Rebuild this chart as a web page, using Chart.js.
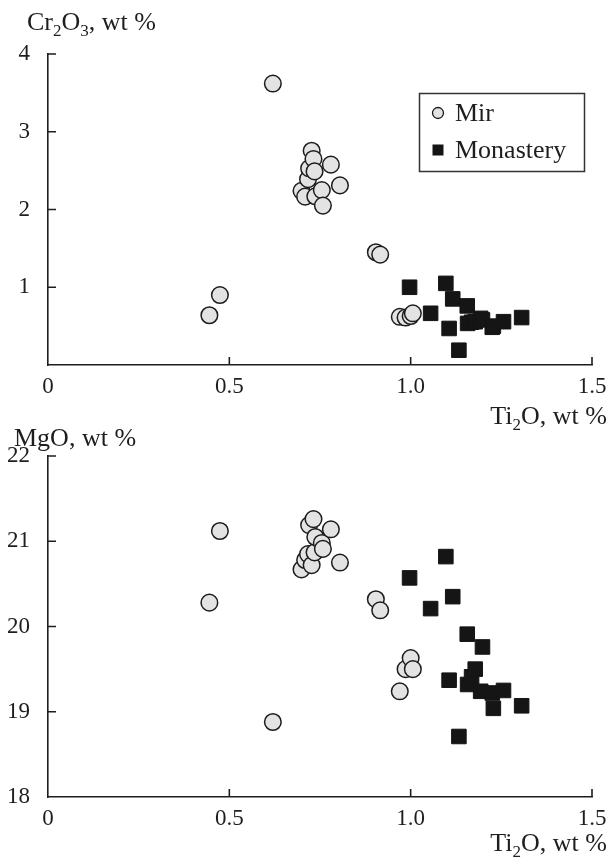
<!DOCTYPE html>
<html>
<head>
<meta charset="utf-8">
<script src="https://cdn.jsdelivr.net/npm/chart.js@4"></script>
<style>
  body { margin: 0; background: #fff; }
  #wrap { position: relative; width: 616px; height: 861px; }
  canvas { position: absolute; left: 0; top: 0; }
</style>
</head>
<body>
<div id="wrap">
  <canvas id="topChart" width="616" height="861"></canvas>
  <canvas id="bottomChart" width="616" height="861"></canvas>
</div>
<script>
// Mir samples: TiO2 with Cr2O3 (top panel) and MgO (bottom panel)
const mirTiO2  = [0.445, 0.474, 0.620, 0.699, 0.709, 0.717, 0.720, 0.727, 0.732, 0.735, 0.737, 0.755, 0.758, 0.780, 0.805, 0.904, 0.916, 0.970, 0.986, 1.000, 1.006];
const mirCr2O3 = [0.64, 0.90, 3.62, 2.24, 2.165, 2.39, 2.53, 2.756, 2.65, 2.49, 2.17, 2.25, 2.05, 2.577, 2.31, 1.45, 1.42, 0.62, 0.61, 0.63, 0.665];
const mirMgO   = [20.28, 21.12, 18.88, 20.67, 20.78, 20.85, 21.19, 20.72, 21.26, 20.87, 21.05, 20.98, 20.91, 21.14, 20.75, 20.32, 20.19, 19.24, 19.50, 19.63, 19.50];
// Monastery samples
const monTiO2  = [0.997, 1.055, 1.097, 1.106, 1.116, 1.133, 1.156, 1.157, 1.168, 1.178, 1.193, 1.198, 1.225, 1.228, 1.256, 1.306];
const monCr2O3 = [1.00, 0.665, 1.05, 0.47, 0.85, 0.19, 0.76, 0.535, 0.55, 0.557, 0.60, 0.58, 0.485, 0.50, 0.557, 0.61];
const monMgO   = [20.57, 20.21, 20.82, 19.37, 20.35, 18.71, 19.91, 19.32, 19.41, 19.50, 19.24, 19.76, 19.22, 19.04, 19.25, 19.07];

const seriesNames = ['Mir', 'Monastery'];
const xTicks = [0, 0.5, 1.0, 1.5];
const xTickLabels = ['0', '0.5', '1.0', '1.5'];

const FONT = "'Liberation Serif', 'Times New Roman', serif";
const INK = '#1e1e1e';

function pairs(xs, ys) {
    return xs.map((x, i) => ({x: x, y: ys[i]}));
}

// draw text with subscript parts: [[text, isSub], ...]
function drawRich(ctx, parts, x, y, align) {
    const big = '26px ' + FONT, small = '17px ' + FONT;
    let total = 0;
    parts.forEach(p => { ctx.font = p[1] ? small : big; total += ctx.measureText(p[0]).width; });
    let cx = align === 'right' ? x - total : x;
    ctx.fillStyle = INK;
    ctx.textAlign = 'left';
    ctx.textBaseline = 'alphabetic';
    parts.forEach(p => {
        ctx.font = p[1] ? small : big;
        ctx.fillText(p[0], cx, p[1] ? y + 6 : y);
        cx += ctx.measureText(p[0]).width;
    });
}

// inward tick marks and axis titles / legend
const decor = {
    id: 'decor',
    afterDraw(chart, args, opts) {
        const ctx = chart.ctx;
        const xs = chart.scales.x, ys = chart.scales.y;
        const area = chart.chartArea;
        ctx.save();
        ctx.strokeStyle = INK;
        ctx.lineWidth = 1.6;
        ctx.beginPath();
        xs.ticks.forEach(t => {
            if (t.value === xs.min) return;
            const px = xs.getPixelForValue(t.value);
            ctx.moveTo(px, area.bottom);
            ctx.lineTo(px, area.bottom - 8);
        });
        ys.ticks.forEach(t => {
            if (t.value === ys.min) return;
            const py = ys.getPixelForValue(t.value);
            ctx.moveTo(area.left, py);
            ctx.lineTo(area.left + 8, py);
        });
        ctx.stroke();

        drawRich(ctx, opts.yTitle, opts.yTitlePos[0], opts.yTitlePos[1], 'left');
        drawRich(ctx, [['Ti', false], ['2', true], ['O, wt %', false]], 607, opts.xTitleY, 'right');

        if (opts.legend) {
            const L = opts.legend;
            ctx.lineWidth = 1.5;
            ctx.strokeStyle = '#333';
            ctx.strokeRect(L.x + 0.5, L.y + 0.5, L.w, L.h);
            chart.data.datasets.forEach((ds, i) => {
                const cy = L.y + 20 + i * 37;
                const mx = L.x + 19;
                ctx.fillStyle = ds.backgroundColor;
                ctx.strokeStyle = ds.borderColor;
                ctx.lineWidth = 1.3;
                ctx.beginPath();
                if (ds.pointStyle === 'rect') {
                    ctx.rect(mx - 5.5, cy - 5.5, 11, 11);
                    ctx.fill();
                } else {
                    ctx.arc(mx, cy, 5.5, 0, Math.PI * 2);
                    ctx.fill();
                    ctx.stroke();
                }
                ctx.fillStyle = INK;
                ctx.font = '26px ' + FONT;
                ctx.textAlign = 'left';
                ctx.textBaseline = 'alphabetic';
                ctx.fillText(ds.label, L.x + 36, cy + 8);
            });
        }
        ctx.restore();
    }
};

function makeDatasets(mirY, monY) {
    return [{
        label: seriesNames[0],
        data: pairs(mirTiO2, mirY),
        pointStyle: 'circle',
        pointRadius: 8.3,
        borderWidth: 1.5,
        backgroundColor: '#e3e3e3',
        borderColor: '#1c1c1c'
    }, {
        label: seriesNames[1],
        data: pairs(monTiO2, monY),
        pointStyle: 'rect',
        pointRadius: 10.3,
        borderWidth: 1,
        backgroundColor: '#151515',
        borderColor: '#151515'
    }];
}

function makeChart(id, datasets, yMin, yMax, padTop, padBottom, decorOpts, hideYMin) {
    return new Chart(document.getElementById(id).getContext('2d'), {
        type: 'scatter',
        data: { datasets: datasets },
        options: {
            responsive: false,
            animation: false,
            layout: { padding: { left: 0, right: 24, top: padTop, bottom: padBottom } },
            plugins: {
                legend: { display: false },
                tooltip: { enabled: false },
                decor: decorOpts
            },
            scales: {
                x: {
                    type: 'linear',
                    min: 0, max: 1.5,
                    afterBuildTicks: s => { s.ticks = xTicks.map(v => ({value: v})); },
                    afterFit: s => { s.height = 40; },
                    grid: { display: false },
                    border: { display: true, color: INK, width: 1.6 },
                    ticks: {
                        color: INK,
                        padding: 0,
                        maxRotation: 0,
                        font: { family: FONT, size: 23 },
                        callback: v => xTickLabels[xTicks.indexOf(v)]
                    }
                },
                y: {
                    type: 'linear',
                    min: yMin, max: yMax,
                    afterFit: s => { s.width = 48; },
                    grid: { display: false },
                    border: { display: true, color: INK, width: 1.6 },
                    ticks: {
                        color: INK,
                        padding: 10,
                        stepSize: 1,
                        font: { family: FONT, size: 23 },
                        callback: v => (hideYMin && v === yMin) ? '' : String(v)
                    }
                }
            }
        },
        plugins: [decor]
    });
}

// top panel: Cr2O3 vs TiO2
makeChart('topChart', makeDatasets(mirCr2O3, monCr2O3), 0, 4, 54, 861 - 365 - 40, {
    yTitle: [['Cr', false], ['2', true], ['O', false], ['3', true], [', wt %', false]],
    yTitlePos: [27, 30],
    xTitleY: 424,
    legend: { x: 419, y: 93, w: 165, h: 78 }
}, true);

// bottom panel: MgO vs TiO2
makeChart('bottomChart', makeDatasets(mirMgO, monMgO), 18, 22, 456, 861 - 797 - 40, {
    yTitle: [['MgO, wt %', false]],
    yTitlePos: [14, 446],
    xTitleY: 851
}, false);
</script>
</body>
</html>
